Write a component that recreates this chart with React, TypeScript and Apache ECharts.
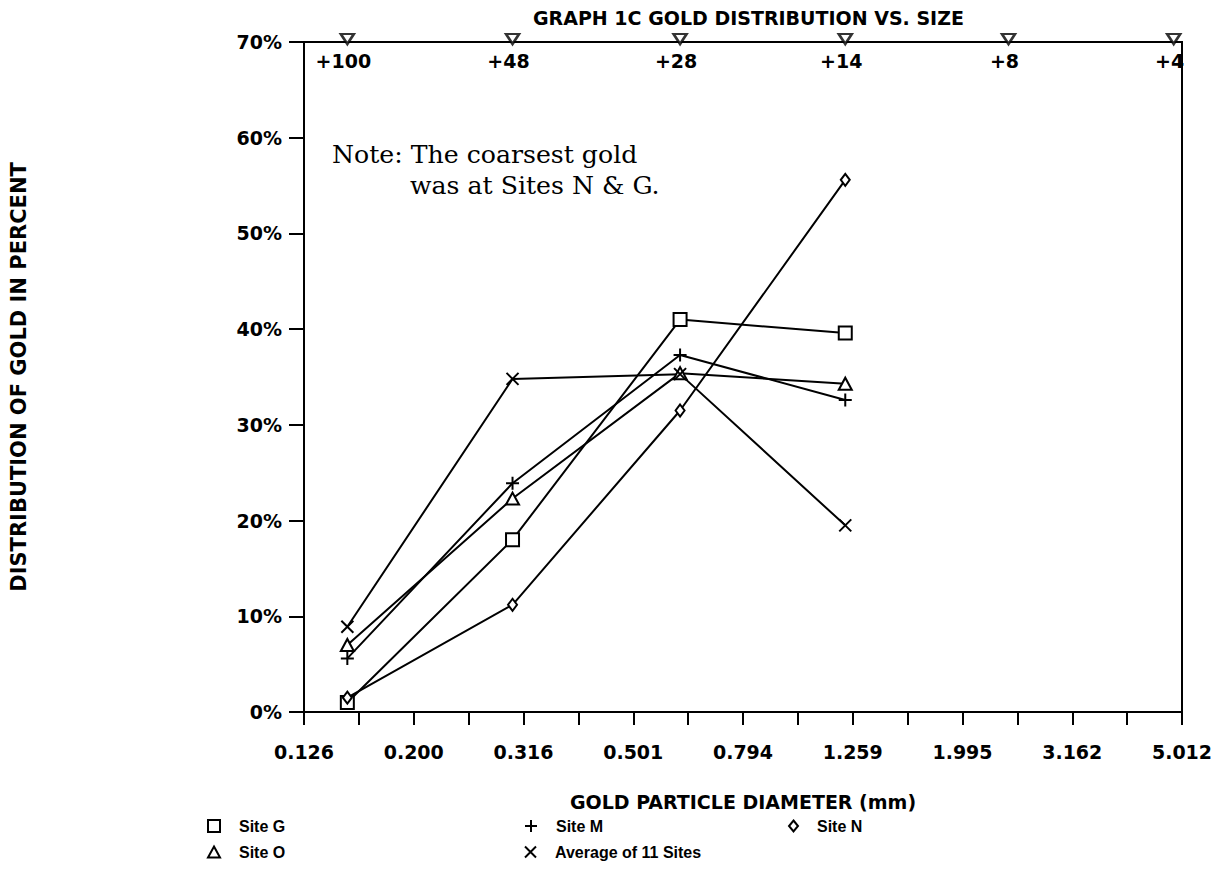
import React, { useEffect, useRef } from "react";
import * as echarts from "echarts";

// Particle diameters (mm) of the sieve fractions, one per mesh size
const sizesMm = [0.151, 0.302, 0.61, 1.22];

// Percent of gold found in each size fraction
const siteG = [1.0, 18.0, 41.0, 39.6];
const siteM = [5.6, 23.9, 37.3, 32.6];
const siteN = [1.5, 11.2, 31.5, 55.6];
const siteO = [7.0, 22.3, 35.4, 34.3];
const average11 = [8.9, 34.8, 35.3, 19.5];

// Mesh sizes marked along the top edge
const meshLabels = ["+100", "+48", "+28", "+14", "+8", "+4"];
const meshSizesMm = [0.151, 0.302, 0.61, 1.22, 2.42, 4.84];

// Log10 range of the diameter axis and its tick step
const xExpMin = -0.9;
const xExpMax = 0.7;
const xExpStep = 0.1;

const yMin = 0;
const yMax = 70;
const yStep = 10;

const FONT = "DejaVu Sans";
const LEGEND_FONT = "Liberation Sans";
const PLUS = "path://M5,0L5,10M0,5L10,5";
const CROSS = "path://M0,0L10,10M10,0L0,10";

const markerStyle = { color: "#fff", borderColor: "#000", borderWidth: 2 };

function toPoints(values: number[]) {
  return values.map((v, i) => [Math.log10(sizesMm[i]), v]);
}

function siteSeries(name: string, values: number[], symbol: string, size: number | number[]) {
  return {
    name,
    type: "line",
    data: toPoints(values),
    symbol,
    symbolSize: size,
    showAllSymbol: true,
    lineStyle: { color: "#000", width: 2 },
    itemStyle: markerStyle,
    z: 3,
  };
}

function legendItem(name: string, icon: string, left: number, top: number, w: number, h: number) {
  return {
    show: true,
    selectedMode: false,
    left,
    top,
    orient: "horizontal",
    itemWidth: w,
    itemHeight: h,
    data: [{ name, icon }],
    itemStyle: { color: "#fff", borderColor: "#000", borderWidth: 2 },
    textStyle: {
      fontFamily: LEGEND_FONT,
      fontWeight: "bold",
      fontSize: 16,
      color: "#000",
      padding: [0, 0, 0, 14],
    },
  };
}

export default function App() {
  const ref = useRef<HTMLDivElement>(null);

  useEffect(() => {
    if (!ref.current) return;
    const chart = echarts.init(ref.current, null, { renderer: "svg" });

    const labelText = {
      fontFamily: FONT,
      fontWeight: "bold",
      fontSize: 19,
      color: "#000",
    };

    chart.setOption({
      animation: false,
      backgroundColor: "#fff",
      title: {
        text: "GRAPH 1C GOLD DISTRIBUTION VS. SIZE",
        left: 533,
        top: 8,
        padding: 0,
        textStyle: { ...labelText },
      },
      grid: {
        left: 303,
        right: 50,
        top: 42,
        bottom: 157,
        show: true,
        borderColor: "#000",
        borderWidth: 2,
        backgroundColor: "transparent",
      },
      xAxis: {
        type: "value",
        min: xExpMin,
        max: xExpMax,
        interval: xExpStep,
        name: "GOLD PARTICLE DIAMETER (mm)",
        nameLocation: "middle",
        nameGap: 80,
        nameTextStyle: { ...labelText },
        axisLine: { show: true, onZero: false, lineStyle: { color: "#000", width: 2 } },
        axisTick: { show: true, inside: false, length: 13, lineStyle: { color: "#000", width: 2 } },
        splitLine: { show: false },
        axisLabel: {
          ...labelText,
          margin: 30,
          showMinLabel: true,
          showMaxLabel: true,
          formatter: (v: number) => {
            const i = Math.round((v - xExpMin) / xExpStep);
            if (i % 2 !== 0) return "";
            return Math.pow(10, v).toFixed(3);
          },
        },
      },
      yAxis: {
        type: "value",
        min: yMin,
        max: yMax,
        interval: yStep,
        name: "DISTRIBUTION OF GOLD IN PERCENT",
        nameLocation: "middle",
        nameGap: 275,
        nameRotate: 90,
        nameTextStyle: { ...labelText, fontSize: 21 },
        axisLine: { show: true, onZero: false, lineStyle: { color: "#000", width: 2 } },
        axisTick: { show: true, inside: false, length: 15, lineStyle: { color: "#000", width: 2 } },
        splitLine: { show: false },
        axisLabel: { ...labelText, margin: 22, formatter: "{value}%" },
      },
      legend: [
        legendItem("Site G", "rect", 202, 813, 12, 12),
        legendItem("Site M", PLUS, 519, 813, 12, 12),
        legendItem("Site N", "diamond", 783, 813, 9, 11),
        legendItem("Site O", "triangle", 202, 839, 12, 11),
        legendItem("Average of 11 Sites", CROSS, 519, 839, 11, 11),
      ],
      series: [
        siteSeries("Site G", siteG, "rect", 13),
        siteSeries("Site M", siteM, PLUS, 13),
        siteSeries("Site N", siteN, "diamond", [9, 12]),
        siteSeries("Site O", siteO, "triangle", [13, 12]),
        siteSeries("Average of 11 Sites", average11, CROSS, 12),
        {
          name: "mesh",
          type: "scatter",
          data: meshSizesMm.map((m) => [Math.log10(m), yMax]),
          symbol: "triangle",
          symbolRotate: 180,
          symbolSize: [13, 10],
          symbolOffset: [0, -3],
          clip: false,
          itemStyle: { color: "#fff", borderColor: "#000", borderWidth: 2.5 },
          z: 5,
          label: {
            show: true,
            position: "bottom",
            distance: 6,
            offset: [-4, 0],
            formatter: (p: any) => meshLabels[p.dataIndex],
            fontFamily: FONT,
            fontWeight: "bold",
            fontSize: 19,
            color: "#000",
            opacity: 1,
          },
          emphasis: { disabled: true },
        },
      ],
      graphic: [
        {
          type: "text",
          left: 332,
          top: 143,
          scaleX: 1.05,
          style: {
            text: "Note: The coarsest gold",
            font: "24px 'DejaVu Serif'",
            fill: "#000",
          },
        },
        {
          type: "text",
          left: 410,
          top: 174,
          scaleX: 1.05,
          style: {
            text: "was at Sites N & G.",
            font: "24px 'DejaVu Serif'",
            fill: "#000",
          },
        },
      ],
    });

    return () => chart.dispose();
  }, []);

  return (
    <div
      ref={ref}
      style={{ position: "fixed", left: 0, top: 0, width: 1232, height: 869, background: "#fff" }}
    />
  );
}
